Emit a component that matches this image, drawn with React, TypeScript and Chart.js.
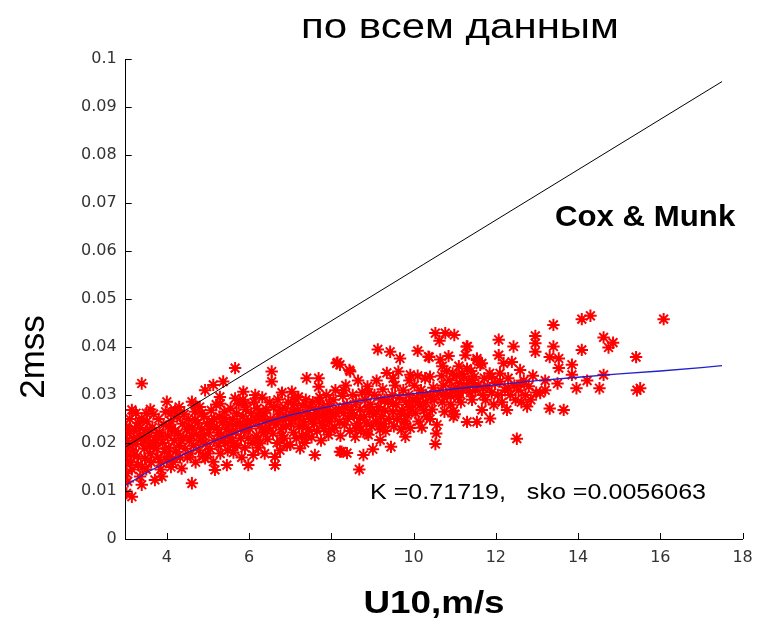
import React, { useEffect, useRef } from "react";
import { Chart, registerables } from "chart.js";

Chart.register(...registerables);

// ---- data ----
const titleText = "по всем данным";
const yAxisLabel = "2mss";
const xAxisLabel = "U10,m/s";
const coxMunkLabel = "Cox & Munk";
const statsLabel = "K =0.71719,   sko =0.0056063";

const xTickValues = [4, 6, 8, 10, 12, 14, 16, 18];
const yTickValues = [0, 0.01, 0.02, 0.03, 0.04, 0.05, 0.06, 0.07, 0.08, 0.09, 0.1];
const yTickLabels = ["0", "0.01", "0.02", "0.03", "0.04", "0.05", "0.06", "0.07", "0.08", "0.09", "0.1"];

// Cox & Munk line (U10, 2mss)
const coxMunkU = [3, 17.5];
const coxMunkMss = [0.0192, 0.0953];

// fitted curve (U10, 2mss)
const fitU = [3, 3.5, 4, 4.5, 5, 5.5, 6, 6.5, 7, 7.5, 8, 8.5, 9, 9.5, 10, 11, 12, 13, 14, 15, 16, 17, 17.5];
const fitMss = [0.0112, 0.0138, 0.016, 0.018, 0.0199, 0.0216, 0.0232, 0.0246, 0.0258, 0.0268, 0.0277, 0.0285, 0.0292, 0.0298, 0.0303, 0.0313, 0.0321, 0.033, 0.0337, 0.0344, 0.035, 0.0357, 0.0361];

// measured points [U10, 2mss]
const observations: [number, number][] = [
  [3.02, 0.0095], [3.15, 0.0088], [3.05, 0.012], [3.02, 0.0137], [3.02, 0.0158], [3.05, 0.0175], [3.03, 0.019], [3.02, 0.0205], [3.04, 0.022], [3.02, 0.0234], [3.15, 0.0269], [3.1, 0.025], [3.12, 0.016], [3.15, 0.0145], [3.18, 0.0185], [3.2, 0.021], [3.22, 0.023], [3.25, 0.0198], [3.28, 0.0172], [3.3, 0.0155], [3.35, 0.013], [3.39, 0.0113], [3.35, 0.0231], [3.39, 0.0251], [3.39, 0.0324], [3.42, 0.0205], [3.45, 0.0188], [3.47, 0.0168], [3.48, 0.0222], [3.3, 0.0242], [3.25, 0.0262], [3.4, 0.015], [3.1, 0.0225],
  [3.52, 0.0245], [3.55, 0.0212], [3.58, 0.0195], [3.6, 0.0178], [3.62, 0.016], [3.65, 0.0232], [3.68, 0.026], [3.71, 0.0123], [3.72, 0.0205], [3.75, 0.0188], [3.78, 0.017], [3.8, 0.025], [3.82, 0.0222], [3.85, 0.0145], [3.88, 0.013], [3.9, 0.02], [3.92, 0.0238], [3.95, 0.0182], [3.97, 0.0265], [3.6, 0.027], [3.75, 0.0215], [3.85, 0.016],
  [4.0, 0.0286], [4.02, 0.0215], [4.05, 0.019], [4.08, 0.0172], [4.1, 0.0245], [4.12, 0.023], [4.15, 0.016], [4.18, 0.0205], [4.2, 0.0268], [4.22, 0.0182], [4.25, 0.0255], [4.28, 0.022], [4.3, 0.0195], [4.32, 0.017], [4.36, 0.0147], [4.38, 0.024], [4.4, 0.0212], [4.42, 0.026], [4.45, 0.0188], [4.48, 0.0228], [4.1, 0.015], [4.3, 0.0275],
  [4.52, 0.025], [4.55, 0.0205], [4.58, 0.0178], [4.61, 0.0286], [4.61, 0.0116], [4.62, 0.0232], [4.65, 0.0195], [4.68, 0.0265], [4.7, 0.016], [4.72, 0.0218], [4.75, 0.0242], [4.78, 0.0185], [4.8, 0.0275], [4.82, 0.0205], [4.85, 0.0228], [4.88, 0.0172], [4.9, 0.0255], [4.93, 0.031], [4.93, 0.0168], [4.95, 0.0198], [4.98, 0.024], [4.6, 0.0215], [4.85, 0.0262],
  [5.02, 0.0222], [5.05, 0.0188], [5.08, 0.0268], [5.1, 0.0245], [5.13, 0.0321], [5.13, 0.0161], [5.15, 0.0205], [5.17, 0.0144], [5.2, 0.028], [5.22, 0.0232], [5.25, 0.0195], [5.28, 0.0255], [5.29, 0.0296], [5.3, 0.0178], [5.32, 0.0215], [5.35, 0.0242], [5.37, 0.0328], [5.4, 0.0265], [5.42, 0.02], [5.45, 0.0228], [5.46, 0.0154], [5.48, 0.0185], [5.15, 0.025], [5.38, 0.021],
  [5.52, 0.0238], [5.55, 0.0272], [5.58, 0.0205], [5.6, 0.025], [5.62, 0.018], [5.66, 0.0293], [5.66, 0.0356], [5.68, 0.0225], [5.7, 0.0262], [5.72, 0.0195], [5.75, 0.0282], [5.78, 0.024], [5.8, 0.021], [5.82, 0.017], [5.85, 0.0255], [5.86, 0.0307], [5.88, 0.0225], [5.9, 0.019], [5.92, 0.027], [5.95, 0.0245], [5.98, 0.0154], [5.98, 0.021], [5.6, 0.0225], [5.85, 0.029],
  [6.02, 0.023], [6.05, 0.0262], [6.08, 0.02], [6.1, 0.0175], [6.12, 0.0285], [6.15, 0.0248], [6.18, 0.0215], [6.2, 0.0272], [6.22, 0.019], [6.25, 0.0235], [6.27, 0.0199], [6.3, 0.0258], [6.32, 0.0295], [6.35, 0.0222], [6.38, 0.0178], [6.4, 0.0245], [6.42, 0.027], [6.45, 0.0208], [6.48, 0.0232], [6.15, 0.03], [6.35, 0.0262],
  [6.52, 0.025], [6.55, 0.0349], [6.55, 0.0328], [6.58, 0.022], [6.6, 0.0275], [6.63, 0.0171], [6.63, 0.0154], [6.65, 0.0238], [6.68, 0.02], [6.7, 0.029], [6.72, 0.026], [6.75, 0.0185], [6.78, 0.0228], [6.8, 0.0305], [6.82, 0.0248], [6.85, 0.021], [6.88, 0.0272], [6.9, 0.0235], [6.92, 0.0195], [6.95, 0.0285], [6.98, 0.0255],
  [7.0, 0.0196], [7.02, 0.024], [7.04, 0.0307], [7.05, 0.0265], [7.08, 0.0222], [7.1, 0.0282], [7.12, 0.025], [7.15, 0.021], [7.18, 0.0268], [7.2, 0.0296], [7.22, 0.0235], [7.24, 0.0189], [7.25, 0.0258], [7.28, 0.0215], [7.3, 0.0278], [7.32, 0.0245], [7.35, 0.02], [7.38, 0.029], [7.4, 0.0335], [7.42, 0.0262], [7.45, 0.0228], [7.48, 0.0275],
  [7.5, 0.025], [7.52, 0.0212], [7.55, 0.0285], [7.58, 0.024], [7.6, 0.0175], [7.62, 0.0268], [7.65, 0.0225], [7.69, 0.0335], [7.69, 0.0317], [7.7, 0.0255], [7.72, 0.0295], [7.75, 0.0205], [7.78, 0.0242], [7.8, 0.0275], [7.82, 0.023], [7.85, 0.0262], [7.88, 0.03], [7.9, 0.0248], [7.93, 0.0217], [7.95, 0.0282], [7.98, 0.0265],
  [8.02, 0.0255], [8.05, 0.029], [8.08, 0.0232], [8.1, 0.031], [8.13, 0.0366], [8.15, 0.0368], [8.18, 0.027], [8.2, 0.0245], [8.21, 0.0363], [8.21, 0.0182], [8.22, 0.0215], [8.25, 0.0182], [8.28, 0.0298], [8.3, 0.0262], [8.32, 0.0238], [8.35, 0.032], [8.38, 0.0179], [8.38, 0.028], [8.4, 0.025], [8.44, 0.0352], [8.46, 0.0349], [8.45, 0.0225], [8.48, 0.027],
  [8.52, 0.03], [8.55, 0.0258], [8.58, 0.0213], [8.6, 0.0285], [8.62, 0.024], [8.65, 0.033], [8.68, 0.0145], [8.7, 0.027], [8.72, 0.0228], [8.75, 0.0305], [8.78, 0.0175], [8.8, 0.0255], [8.82, 0.029], [8.85, 0.0242], [8.86, 0.022], [8.88, 0.0318], [8.9, 0.0217], [8.92, 0.0265], [8.95, 0.028], [8.98, 0.0235],
  [9.01, 0.0187], [9.02, 0.026], [9.05, 0.03], [9.08, 0.0245], [9.1, 0.033], [9.13, 0.0395], [9.15, 0.0275], [9.18, 0.0228], [9.19, 0.0206], [9.2, 0.029], [9.22, 0.0255], [9.25, 0.0312], [9.28, 0.024], [9.3, 0.0268], [9.32, 0.0225], [9.35, 0.0346], [9.38, 0.0285], [9.4, 0.025], [9.43, 0.039], [9.45, 0.0192], [9.48, 0.03],
  [9.5, 0.0265], [9.52, 0.0235], [9.55, 0.032], [9.58, 0.028], [9.6, 0.025], [9.63, 0.0349], [9.65, 0.0295], [9.67, 0.0376], [9.7, 0.0228], [9.72, 0.0268], [9.75, 0.031], [9.78, 0.0245], [9.8, 0.0213], [9.82, 0.0285], [9.85, 0.0258], [9.88, 0.03], [9.9, 0.033], [9.92, 0.0231], [9.92, 0.0342], [9.95, 0.027], [9.98, 0.0288],
  [10.02, 0.032], [10.05, 0.0262], [10.08, 0.0295], [10.1, 0.0392], [10.12, 0.0245], [10.15, 0.0278], [10.18, 0.031], [10.2, 0.0232], [10.22, 0.03], [10.25, 0.0268], [10.28, 0.0335], [10.3, 0.0285], [10.32, 0.0255], [10.36, 0.038], [10.38, 0.0379], [10.4, 0.0338], [10.42, 0.0298], [10.45, 0.027], [10.48, 0.0315],
  [10.53, 0.0429], [10.53, 0.0198], [10.55, 0.022], [10.57, 0.0238], [10.6, 0.0305], [10.63, 0.0413], [10.65, 0.0374], [10.68, 0.034], [10.7, 0.0285], [10.72, 0.032], [10.75, 0.0265], [10.77, 0.0429], [10.8, 0.035], [10.82, 0.03], [10.85, 0.0381], [10.88, 0.033], [10.9, 0.028], [10.92, 0.031], [10.95, 0.0345], [10.97, 0.0267], [10.97, 0.0255], [10.99, 0.0425],
  [11.02, 0.0315], [11.05, 0.034], [11.08, 0.0295], [11.1, 0.036], [11.12, 0.0325], [11.15, 0.0285], [11.18, 0.0345], [11.2, 0.031], [11.22, 0.0338], [11.26, 0.0383], [11.29, 0.0401], [11.3, 0.0244], [11.31, 0.0401], [11.35, 0.033], [11.38, 0.0305], [11.4, 0.035], [11.42, 0.029], [11.45, 0.0325], [11.48, 0.0338],
  [11.54, 0.0376], [11.54, 0.0373], [11.54, 0.0244], [11.58, 0.032], [11.62, 0.0363], [11.66, 0.0366], [11.66, 0.0269], [11.68, 0.03], [11.72, 0.0335], [11.75, 0.029], [11.8, 0.0318], [11.86, 0.0251], [11.85, 0.0345], [11.9, 0.0305], [11.95, 0.028], [11.98, 0.0325],
  [12.07, 0.0415], [12.07, 0.0383], [12.05, 0.03], [12.1, 0.0328], [12.15, 0.0285], [12.19, 0.0366], [12.22, 0.031], [12.27, 0.0269], [12.3, 0.0335], [12.35, 0.03], [12.39, 0.0369], [12.43, 0.0401], [12.45, 0.032], [12.48, 0.029],
  [12.51, 0.0209], [12.55, 0.031], [12.59, 0.0352], [12.62, 0.0285], [12.68, 0.033], [12.72, 0.03], [12.76, 0.0276], [12.8, 0.0318], [12.85, 0.029], [12.9, 0.034], [12.96, 0.0423], [12.96, 0.0408], [12.96, 0.039], [12.98, 0.0305],
  [13.08, 0.0304], [13.2, 0.033], [13.2, 0.031], [13.31, 0.0379], [13.31, 0.0272], [13.4, 0.0446], [13.4, 0.0401], [13.5, 0.0324], [13.53, 0.0376], [13.53, 0.0356], [13.65, 0.0269], [13.85, 0.0363], [13.85, 0.0342], [13.96, 0.0314], [14.09, 0.0458], [14.09, 0.0394], [14.22, 0.033], [14.3, 0.0465], [14.52, 0.0314], [14.62, 0.042], [14.62, 0.0342], [14.74, 0.0399], [14.85, 0.0409], [15.41, 0.0379], [15.43, 0.031], [15.51, 0.0314], [16.08, 0.0458],
  // core of the dense band
  [3.08, 0.0195], [3.2, 0.0175], [3.33, 0.0215], [3.45, 0.0205], [3.58, 0.0228], [3.7, 0.0195], [3.88, 0.0215], [4.05, 0.0235], [4.2, 0.0225], [4.35, 0.0205], [4.55, 0.0235], [4.7, 0.0248], [4.9, 0.0215], [5.05, 0.0235], [5.25, 0.0222], [5.4, 0.0252], [5.55, 0.0218], [5.7, 0.024], [5.9, 0.0235], [6.05, 0.0245], [6.25, 0.0255], [6.4, 0.0228], [6.6, 0.0245], [6.75, 0.027], [6.9, 0.0255], [7.1, 0.0262], [7.3, 0.0235], [7.45, 0.0255], [7.6, 0.0255], [7.8, 0.0262], [7.95, 0.0245], [8.1, 0.0262], [8.3, 0.0275], [8.5, 0.0262], [8.7, 0.0252], [8.9, 0.0275], [9.1, 0.0265], [9.3, 0.029], [9.5, 0.0282], [9.7, 0.026], [9.9, 0.0275], [10.1, 0.0285], [10.3, 0.03], [10.5, 0.029], [10.7, 0.03], [10.9, 0.0298], [11.1, 0.0305], [11.3, 0.0318], [11.5, 0.031], [11.7, 0.0315], [11.9, 0.0338], [12.1, 0.0345], [12.3, 0.0315], [12.6, 0.0322],
  [3.5, 0.0145], [4.0, 0.0165], [4.5, 0.017], [5.0, 0.0178], [5.6, 0.0195], [6.2, 0.0205], [6.8, 0.0215], [7.4, 0.0215], [8.0, 0.0228], [8.6, 0.023], [9.2, 0.0238], [9.8, 0.024], [10.4, 0.025], [11.0, 0.026], [3.5, 0.0262], [4.1, 0.0262], [4.7, 0.0278], [5.3, 0.0282], [5.9, 0.0282], [6.5, 0.0285], [7.1, 0.0295], [7.7, 0.0285], [8.3, 0.031], [8.9, 0.0305], [9.5, 0.0335], [10.1, 0.034], [10.7, 0.036], [11.3, 0.0355],
];

const W = 773;
const H = 625;

function drawStretched(
  ctx: CanvasRenderingContext2D,
  text: string,
  x: number,
  y: number,
  font: string,
  align: CanvasTextAlign,
  sx: number,
  rotate = false
) {
  ctx.save();
  ctx.translate(x, y);
  if (rotate) ctx.rotate(-Math.PI / 2);
  ctx.scale(sx, 1);
  ctx.font = font;
  ctx.fillStyle = "#000";
  ctx.textAlign = align;
  ctx.textBaseline = "alphabetic";
  ctx.fillText(text, 0, 0);
  ctx.restore();
}

const decorPlugin = {
  id: "decor",
  afterDraw(chart: any) {
    const ctx: CanvasRenderingContext2D = chart.ctx;
    const xs = chart.scales.x;
    const ys = chart.scales.y;
    const area = chart.chartArea;
    // inward tick marks (MATLAB style)
    ctx.save();
    ctx.strokeStyle = "#000";
    ctx.lineWidth = 1;
    ctx.beginPath();
    xs.ticks.forEach((t: any) => {
      const px = Math.round(xs.getPixelForValue(t.value)) + 0.5;
      ctx.moveTo(px, area.bottom);
      ctx.lineTo(px, area.bottom - 6);
    });
    ys.ticks.forEach((t: any) => {
      const py = Math.round(ys.getPixelForValue(t.value)) + 0.5;
      ctx.moveTo(area.left, py);
      ctx.lineTo(area.left + 6, py);
    });
    ctx.stroke();
    ctx.restore();

    // texts
    drawStretched(ctx, titleText, 460, 38, "35px 'Liberation Sans', Arial, sans-serif", "center", 1.2);
    drawStretched(ctx, yAxisLabel, 44, 357, "35px 'Liberation Sans', Arial, sans-serif", "center", 1.0, true);
    drawStretched(ctx, xAxisLabel, 434, 613, "bold 32px 'Liberation Sans', Arial, sans-serif", "center", 1.15);
    drawStretched(ctx, coxMunkLabel, 555, 226, "bold 30px 'Liberation Sans', Arial, sans-serif", "left", 1.04);
    drawStretched(ctx, statsLabel, 370, 499, "22px 'Liberation Sans', Arial, sans-serif", "left", 1.14);
  },
};

export default function App() {
  const ref = useRef<HTMLCanvasElement | null>(null);

  useEffect(() => {
    const canvas = ref.current;
    if (!canvas) return;
    const chart = new Chart(canvas, {
      type: "scatter",
      data: {
        datasets: [
          {
            label: "Cox & Munk",
            data: coxMunkU.map((u, i) => ({ x: u, y: coxMunkMss[i] })),
            showLine: true,
            borderColor: "#000000",
            borderWidth: 1,
            pointRadius: 0,
          },
          {
            label: "fit",
            data: fitU.map((u, i) => ({ x: u, y: fitMss[i] })),
            showLine: true,
            borderColor: "#2222c8",
            borderWidth: 1.3,
            pointRadius: 0,
            tension: 0,
          },
          {
            label: "data",
            data: observations.map(([u, m]) => ({ x: u, y: m })),
            pointStyle: "star",
            pointRadius: 6.2,
            pointBorderWidth: 2,
            borderColor: "#ff0000",
            backgroundColor: "#ff0000",
            showLine: false,
          },
        ],
      },
      options: {
        animation: false,
        responsive: false,
        devicePixelRatio: 1,
        events: [],
        layout: { padding: { top: 59, right: 30.4, left: 0, bottom: 0 } },
        plugins: {
          legend: { display: false },
          tooltip: { enabled: false },
          title: { display: false },
        },
        scales: {
          x: {
            type: "linear",
            min: 3,
            max: 18,
            afterBuildTicks: (s: any) => {
              s.ticks = xTickValues.map((v) => ({ value: v }));
            },
            afterFit: (s: any) => {
              s.height = 86;
            },
            grid: { display: true, drawOnChartArea: false, drawTicks: false },
            border: { display: true, color: "#000", width: 1 },
            ticks: {
              padding: 9,
              color: "#333",
              font: { family: "'DejaVu Sans', sans-serif", size: 16 },
              maxRotation: 0,
              autoSkip: false,
            },
          },
          y: {
            type: "linear",
            min: 0,
            max: 0.1,
            afterBuildTicks: (s: any) => {
              s.ticks = yTickValues.map((v) => ({ value: v }));
            },
            afterFit: (s: any) => {
              s.width = 125.7;
            },
            grid: { display: true, drawOnChartArea: false, drawTicks: false },
            border: { display: true, color: "#000", width: 1 },
            ticks: {
              padding: 9,
              color: "#333",
              font: { family: "'DejaVu Sans', sans-serif", size: 16 },
              autoSkip: false,
              callback: (_v: any, i: number) => yTickLabels[i],
            },
          },
        },
      },
      plugins: [decorPlugin],
    });
    return () => chart.destroy();
  }, []);

  return (
    <div style={{ position: "fixed", left: 0, top: 0, width: W, height: H, background: "#fff" }}>
      <canvas ref={ref} width={W} height={H} style={{ width: W, height: H, display: "block" }} />
    </div>
  );
}
